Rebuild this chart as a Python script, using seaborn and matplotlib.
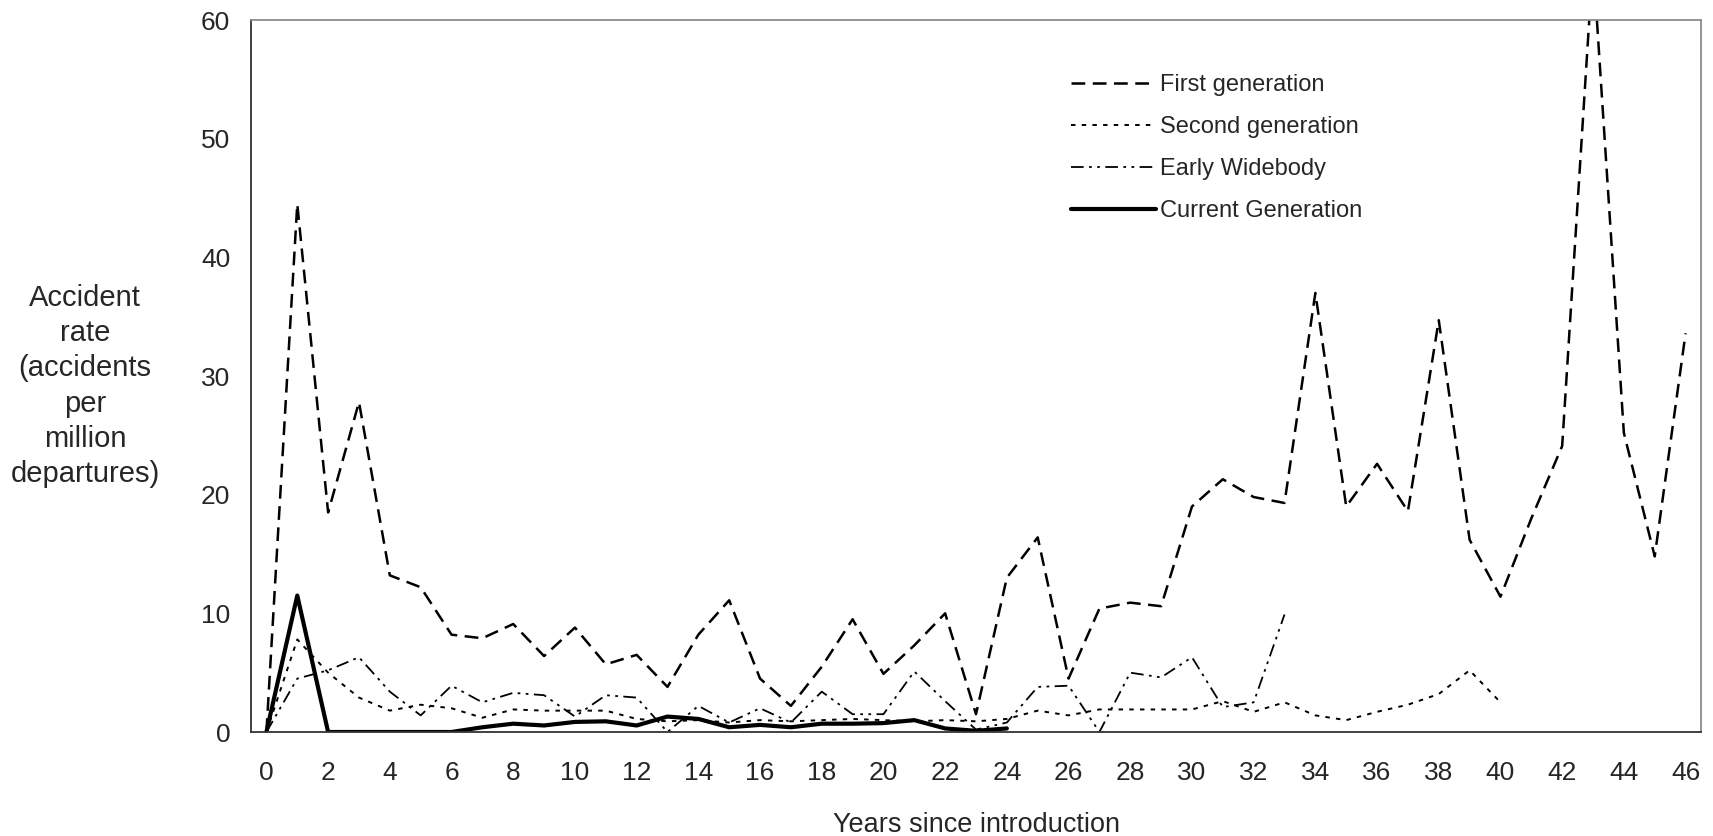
import numpy as np
import pandas as pd
import matplotlib
matplotlib.use("Agg")
import matplotlib.pyplot as plt
import seaborn as sns

# ---------------- data ----------------
first_gen = [0, 44.5, 18.5, 27.8, 13.2, 12.2, 8.2, 7.9, 9.1, 6.4, 8.8, 5.7, 6.5, 3.8,
             8.2, 11.1, 4.5, 2.2, 5.5, 9.5, 4.9, 7.3, 10.0, 1.5, 13.0, 16.4, 4.5, 10.4,
             10.9, 10.6, 19.0, 21.3, 19.8, 19.3, 37.0, 19.0, 22.6, 18.6, 34.7, 16.2,
             11.4, 18.0, 24.1, 65.0, 25.2, 14.8, 33.6]
second_gen = [0, 7.8, 5.0, 2.9, 1.8, 2.3, 2.0, 1.2, 1.9, 1.8, 1.8, 1.8, 1.1, 0.9, 1.0,
              0.8, 1.0, 0.9, 1.0, 1.1, 1.0, 0.9, 1.0, 0.9, 1.1, 1.8, 1.4, 1.9, 1.9, 1.9,
              1.9, 2.6, 1.7, 2.5, 1.4, 1.0, 1.7, 2.3, 3.2, 5.2, 2.5]
early_widebody = [0, 4.5, 5.2, 6.3, 3.4, 1.4, 3.9, 2.5, 3.3, 3.1, 1.3, 3.1, 2.9, 0.0,
                  2.2, 0.8, 2.0, 0.8, 3.4, 1.5, 1.5, 5.1, 2.6, 0.2, 0.8, 3.8, 3.9, 0.0,
                  5.0, 4.6, 6.3, 2.1, 2.5, 9.9]
current_gen = [0, 11.5, 0, 0, 0, 0, 0, 0.4, 0.7, 0.55, 0.85, 0.9, 0.55, 1.3, 1.1, 0.4,
               0.6, 0.4, 0.7, 0.7, 0.75, 1.0, 0.3, 0.1, 0.3]

series_names = ["First generation", "Second generation", "Early Widebody", "Current Generation"]
series_values = [first_gen, second_gen, early_widebody, current_gen]

y_ticks = [0, 10, 20, 30, 40, 50, 60]
x_tick_labels = list(range(0, 47, 2))

x_label = "Years since introduction"
y_label = "Accident\nrate\n(accidents\nper\nmillion\ndepartures)"

# ---------------- style ----------------
sns.set_style("white")
plt.rcParams["font.family"] = ["Liberation Sans", "DejaVu Sans"]

styles = {
    "First generation": dict(lw=1.8, ls=(0, (5.5, 3))),
    "Second generation": dict(lw=1.4, ls=(0, (2.3, 3.2))),
    "Early Widebody": dict(lw=1.3, ls=(0, (7, 3, 1.5, 3, 1.5, 3))),
    "Current Generation": dict(lw=3.0, ls="-"),
}

fig = plt.figure(figsize=(17.13, 8.36), dpi=100)
ax = fig.add_axes([251 / 1713, 1 - 732 / 836, (1701 - 251) / 1713, (732 - 20) / 836])

for name, vals in zip(series_names, series_values):
    df = pd.DataFrame({"year": np.arange(len(vals)), "rate": vals})
    st = styles[name]
    sns.lineplot(data=df, x="year", y="rate", ax=ax, color="black",
                 linewidth=st["lw"], linestyle=st["ls"], label=name)

ax.set_xlim(-0.5, 46.5)
ax.set_ylim(0, 60)
ax.set_yticks(y_ticks)
ax.set_xticks(x_tick_labels)
ax.set_xticklabels([str(v) for v in x_tick_labels], fontsize=19)
ax.set_yticklabels([str(v) for v in y_ticks], fontsize=19)
ax.set_xticks(np.arange(-0.5, 47, 1.0), minor=True)
ax.tick_params(axis="x", which="major", length=0, pad=21)
ax.tick_params(axis="x", which="minor", direction="in", length=7, width=1, color="#404040")
ax.tick_params(axis="y", which="major", direction="out", length=7, width=1, color="#404040", pad=8)

ax.set_xlabel(x_label, fontsize=19.5, labelpad=19)
ax.set_ylabel("")

for s in ["top", "right"]:
    ax.spines[s].set_color("#8c8c8c")
    ax.spines[s].set_linewidth(1.3)
for s in ["left", "bottom"]:
    ax.spines[s].set_color("#333333")
    ax.spines[s].set_linewidth(1.3)

fig.text(85 / 1713, 1 - 386 / 836, y_label, ha="center", va="center",
         multialignment="center", fontsize=21, linespacing=1.33)

leg = ax.legend(loc="upper left", bbox_to_anchor=(1050 / 1713, 1 - 53 / 836),
                bbox_transform=fig.transFigure, frameon=False, fontsize=17,
                handlelength=3.6, handletextpad=0.15, labelspacing=0.85)

fig.savefig("out.png", dpi=100, facecolor="white")
